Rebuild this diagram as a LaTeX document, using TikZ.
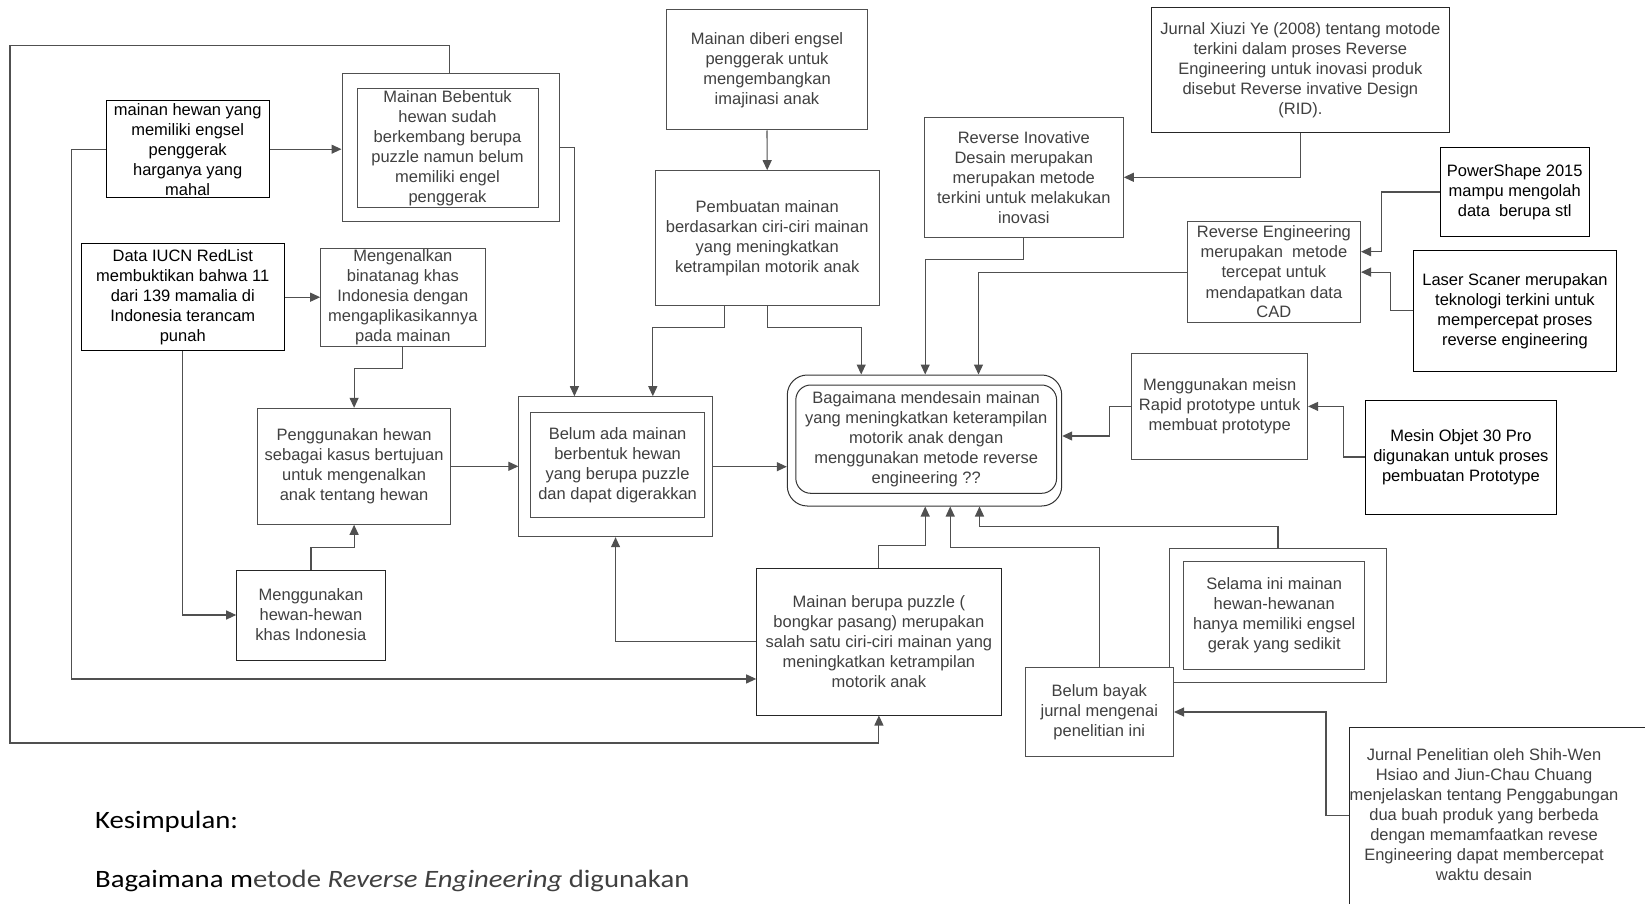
\documentclass[tikz,border=0pt]{standalone}
\usepackage{fontspec}
\usepackage{graphicx}
\setmainfont{Liberation Sans}
\newfontfamily\calibrifont{Carlito}
\usetikzlibrary{arrows.meta}
\definecolor{linegray}{HTML}{505050}
\definecolor{textgray}{HTML}{404040}

\begin{document}
\begin{tikzpicture}[
    x=1pt, y=-1pt,
    box/.style={rectangle, draw=linegray, fill=white, line width=1pt,
        align=center, inner sep=0pt, text=textgray,
        font=\fontsize{16.5}{20}\selectfont},
    darkbox/.style={box, draw=black, text=black},
    link/.style={draw=linegray, line width=1.1pt,
        -{Triangle[length=10pt,width=9pt]}},
    note/.style={anchor=base west, inner sep=0pt,
        font=\calibrifont\fontsize{25}{30}\selectfont}
]
    \fill[white] (0,0) rectangle (1645,904);
    \useasboundingbox (0,0) rectangle (1645,904);

    \node[darkbox, minimum width=162.6pt, minimum height=97pt] (hewanmahal) at (187.7,149.2) {mainan hewan yang\\memiliki engsel\\penggerak\\harganya yang\\mahal};
    \node[box, minimum width=217.5pt, minimum height=147.7pt] (bebentukout) at (450.75,147.85) {};
    \node[box, minimum width=181pt, minimum height=119pt] (bebentuk) at (447.5,147.8) {Mainan Bebentuk\\hewan sudah\\berkembang berupa\\puzzle namun belum\\memiliki engel\\penggerak};
    \node[box, minimum width=201.4pt, minimum height=120.3pt] (diberi) at (767,69.85) {Mainan diberi engsel\\penggerak untuk\\mengembangkan\\imajinasi anak};
    \node[box, minimum width=224.3pt, minimum height=134.3pt] (pembuatan) at (767.2,237.85) {Pembuatan mainan\\berdasarkan ciri-ciri mainan\\yang meningkatkan\\ketrampilan motorik anak};
    \node[box, minimum width=199pt, minimum height=120pt] (inovatif) at (1023.8,177.3) {Reverse Inovative\\Desain merupakan\\merupakan metode\\terkini untuk melakukan\\inovasi};
    \node[box, draw=black!85, minimum width=297.9pt, minimum height=125pt] (xiuzi) at (1300.35,69.8) {Jurnal Xiuzi Ye (2008) tentang motode\\terkini dalam proses Reverse\\Engineering untuk inovasi produk\\disebut Reverse invative Design\\(RID).};
    \node[darkbox, minimum width=149.4pt, minimum height=88.6pt] (powershape) at (1514.7,192) {PowerShape 2015\\mampu mengolah\\data\ \ berupa stl};
    \node[box, minimum width=173.2pt, minimum height=100.8pt] (re) at (1273.9,272.1) {Reverse Engineering\\merupakan\ \ metode\\tercepat untuk\\mendapatkan data\\CAD};
    \node[darkbox, minimum width=202.1pt, minimum height=120.3pt] (laser) at (1514.95,310.85) {Laser Scaner merupakan\\teknologi terkini untuk\\mempercepat proses\\reverse engineering};
    \node[darkbox, minimum width=202.5pt, minimum height=107pt] (iucn) at (182.75,297.2) {Data IUCN RedList\\membuktikan bahwa 11\\dari 139 mamalia di\\Indonesia terancam\\punah};
    \node[box, minimum width=164.3pt, minimum height=97.7pt] (kenal) at (402.85,297.15) {Mengenalkan\\binatanag khas\\Indonesia dengan\\mengaplikasikannya\\pada mainan};
    \node[box, minimum width=192.8pt, minimum height=116pt] (kasus) at (354.1,466.3) {Penggunakan hewan\\sebagai kasus bertujuan\\untuk mengenalkan\\anak tentang hewan};
    \node[box, minimum width=193.3pt, minimum height=140pt] (belumadaout) at (615.55,466.7) {};
    \node[box, minimum width=174pt, minimum height=104.6pt] (belumada) at (617.6,465) {Belum ada mainan\\berbentuk hewan\\yang berupa puzzle\\dan dapat digerakkan};
    \node[box, draw=black!80, rounded corners=20pt, minimum width=274.4pt, minimum height=131pt] (bagaimanaout) at (924.5,440.5) {};
    \node[box, draw=black!80, rounded corners=15pt, minimum width=260.8pt, minimum height=108.3pt] (bagaimana) at (926.2,439.15) {Bagaimana mendesain mainan\\yang meningkatkan keterampilan\\motorik anak dengan\\menggunakan metode reverse\\engineering ??};
    \node[box, minimum width=175.8pt, minimum height=105.2pt] (meisn) at (1219.7,406.4) {Menggunakan meisn\\Rapid prototype untuk\\membuat prototype};
    \node[darkbox, minimum width=191.2pt, minimum height=114pt] (objet) at (1460.9,457) {Mesin Objet 30 Pro\\digunakan untuk proses\\pembuatan Prototype};
    \node[box, draw=black!85, minimum width=148.5pt, minimum height=90pt] (hewankhas) at (310.95,615) {Menggunakan\\hewan-hewan\\khas Indonesia};
    \node[box, draw=black!85, minimum width=244.4pt, minimum height=146.7pt] (puzzle) at (878.9,641.65) {Mainan berupa puzzle (\\bongkar pasang) merupakan\\salah satu ciri-ciri mainan yang\\meningkatkan ketrampilan\\motorik anak};
    \node[box, minimum width=216.9pt, minimum height=134pt] (selamaout) at (1277.95,615.3) {};
    \node[box, minimum width=180.9pt, minimum height=108.3pt] (selama) at (1274.25,615.15) {Selama ini mainan\\hewan-hewanan\\hanya memiliki engsel\\gerak yang sedikit};
    \node[box, minimum width=148.4pt, minimum height=89.4pt] (bayak) at (1099.3,712) {Belum bayak\\jurnal mengenai\\penelitian ini};
    \node[box, draw=black!85, anchor=north west, minimum width=320pt, minimum height=200pt] (shihwenbox) at (1349.3,726.7) {};
    \node[text=textgray, align=center, inner sep=0pt, font=\fontsize{16.5}{20}\selectfont] (shihwen) at (1484,815) {Jurnal Penelitian oleh Shih-Wen\\Hsiao and Jiun-Chau Chuang\\menjelaskan tentang Penggabungan\\dua buah produk yang berbeda\\dengan memamfaatkan revese\\Engineering dapat membercepat\\waktu desain};

    \node[note] (kesimpulan) at (95,828) {\scalebox{1.15}[1]{Kesimpulan:}};
    \node[note] (pertanyaan) at (95,887) {\scalebox{1.15}[1]{Bagaimana m\textcolor{textgray}{etode \textit{Reverse Engineering} digunakan}}};

    \draw[link] (hewanmahal.east) -- (hewanmahal.east -| bebentukout.west);
    \draw[link] (bebentukout.east) -| ([xshift=56pt]belumadaout.north west);
    \draw[link] ([xshift=108pt]bebentukout.north west) -- ++(0,-28.3) -| (10,743) -| (puzzle.south);
    \draw[link] (hewanmahal.west) -- ++(-34.4,0) |- ([yshift=-37.3pt]puzzle.west);
    \draw[link] (iucn.east) -- (iucn.east -| kenal.west);
    \draw[link] (iucn.south) |- (hewankhas.west);
    \draw[link] (kenal.south) -- ++(0,22.3) -| (kasus.north);
    \draw[link] (hewankhas.north) -- ++(0,-21.7) -| (kasus.south);
    \draw[link] (kasus.east) -- (kasus.east -| belumadaout.west);
    \draw[link] (belumadaout.east) -- (belumadaout.east -| bagaimanaout.west);
    \draw[link] (diberi.south) -- (pembuatan.north);
    \draw[link] ([xshift=-43pt]pembuatan.south) -- ++(0,22.3) -| ([xshift=134.4pt]belumadaout.north west);
    \draw[link] (pembuatan.south) -- ++(0,22.3) -| ([xshift=74.4pt]bagaimanaout.north west);
    \draw[link] (inovatif.south) -- ++(0,22) -| ([xshift=138.4pt]bagaimanaout.north west);
    \draw[link] (re.west) -| ([xshift=191.7pt]bagaimanaout.north west);
    \draw[link] (xiuzi.south) |- (inovatif.east);
    \draw[link] (powershape.west) -- ++(-57.8,0) |- ([yshift=20.4pt]re.east);
    \draw[link] (laser.west) -- ++(-22.6,0) |- (re.east);
    \draw[link] (meisn.west) -- ++(-22.2,0) |- ([yshift=4.5pt]bagaimanaout.east);
    \draw[link] (objet.west) -- ++(-21.7,0) |- (meisn.east);
    \draw[link] (puzzle.north) -- ++(0,-22.6) -| ([xshift=138.4pt]bagaimanaout.south west);
    \draw[link] (bayak.north) -- ++(0,-119) -| ([xshift=163.4pt]bagaimanaout.south west);
    \draw[link] (selamaout.north) -- ++(0,-21.6) -| ([xshift=192.7pt]bagaimanaout.south west);
    \draw[link] (puzzle.west) -| (belumadaout.south);
    \draw[link] ([yshift=-89pt]shihwenbox.north west) -- ++(-23.3,0) |- (bayak.east);
\end{tikzpicture}
\end{document}
